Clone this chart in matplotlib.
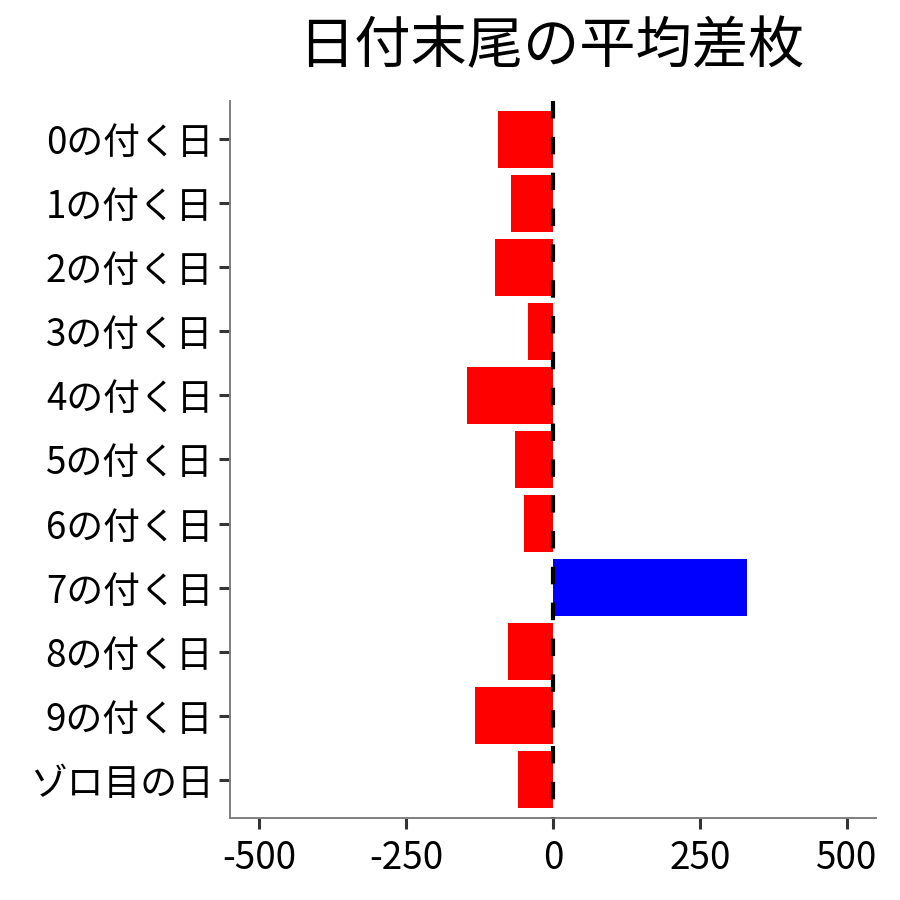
import matplotlib
matplotlib.use("Agg")
import matplotlib.pyplot as plt
import numpy as np

plt.rcParams['font.family'] = ['Noto Sans CJK JP', 'DejaVu Sans']

categories = ["0の付く日", "1の付く日", "2の付く日", "3の付く日", "4の付く日",
              "5の付く日", "6の付く日", "7の付く日", "8の付く日", "9の付く日", "ゾロ目の日"]
values = [-93, -71, -99, -42, -147, -64, -50, 330, -77, -132, -59]
xticks = [-500, -250, 0, 250, 500]
title = "日付末尾の平均差枚"

colors = ["#0000FF" if v > 0 else "#FF0000" for v in values]

fig = plt.figure(figsize=(9, 9), dpi=100)
ax = fig.add_axes([0.2556, 0.0911, 0.9733 - 0.2556, 0.8878 - 0.0911])

pos = np.arange(len(categories))
ax.barh(pos, values, height=0.9, color=colors, zorder=2)
ax.plot([0, 0], [-0.6, len(categories) - 0.4], color="black", lw=3.0,
        dashes=(4.2, 4.4), zorder=3, clip_on=False)

ax.set_ylim(len(categories) - 0.4, -0.6)
ax.set_xlim(-550, 550)
ax.set_yticks(pos)
ax.set_yticklabels(categories)
ax.set_xticks(xticks)
ax.set_xticklabels([str(t) for t in xticks])

for s in ["top", "right"]:
    ax.spines[s].set_visible(False)
for s in ["left", "bottom"]:
    ax.spines[s].set_color("#7f7f7f")
    ax.spines[s].set_linewidth(1.4)

ax.tick_params(axis="both", length=8, width=2.2, color="#333333",
               labelsize=26.5, labelcolor="black")
ax.tick_params(axis="y", pad=4)
ax.tick_params(axis="x", pad=7)

fig.text(0.612, 0.947, title, ha="center", va="center", fontsize=40.5)

fig.savefig("out.png", dpi=100, facecolor="white")
